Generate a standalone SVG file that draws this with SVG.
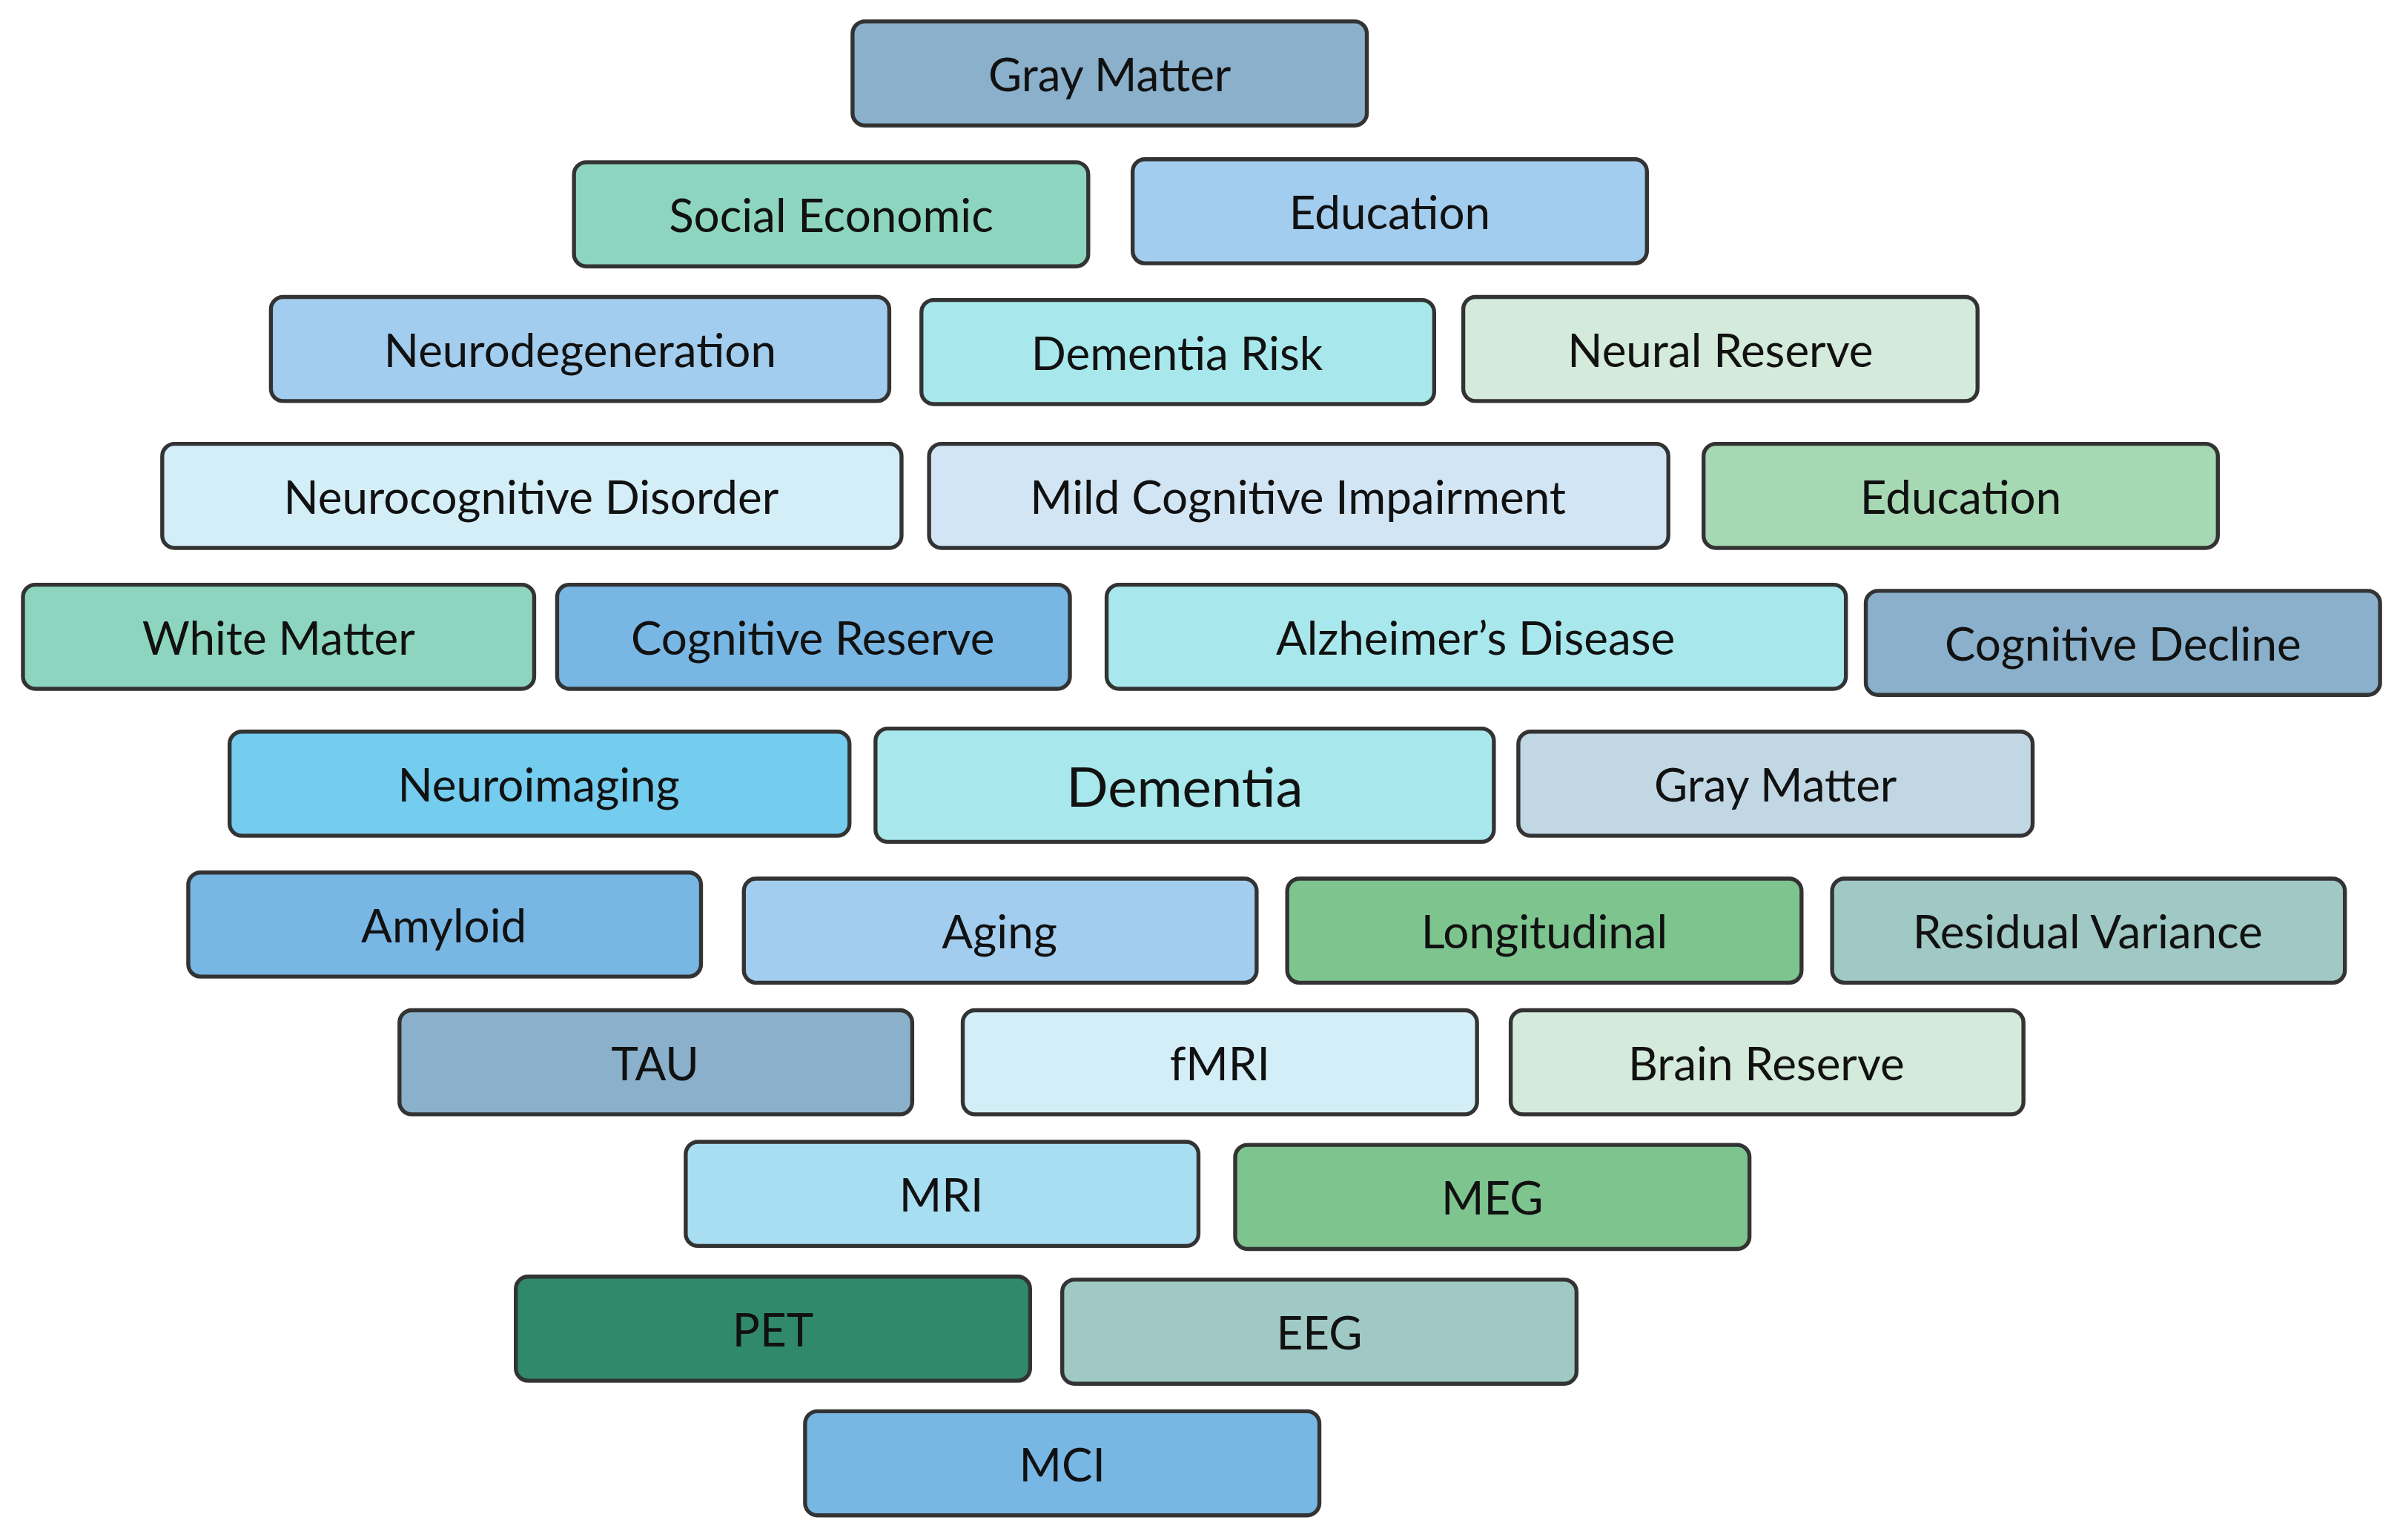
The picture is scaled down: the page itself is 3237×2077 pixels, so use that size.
<svg xmlns="http://www.w3.org/2000/svg" width="3237" height="2077" viewBox="0 0 3237 2077">
<style>
rect{stroke:#333;stroke-width:2.6;rx:8;ry:8}
text{font-family:Lato,"Noto Sans",sans-serif;font-size:30px;fill:#111;text-anchor:middle;dominant-baseline:central}
</style>
<rect width="3237" height="2077" fill="#fff" style="stroke:none"/>
<g transform="scale(2.0644)">
<g id="n1"><rect x="557" y="14" width="336" height="68" fill="#8AB0CB"/><text x="725" y="48">Gray Matter</text></g>
<g id="n2"><rect x="375" y="106" width="336" height="68" fill="#8DD5BF"/><text x="543" y="140">Social Economic</text></g>
<g id="n3"><rect x="740" y="104" width="336" height="68" fill="#A3CDEE"/><text x="908" y="138">Education</text></g>
<g id="n4"><rect x="177" y="194" width="404" height="68" fill="#A3CDEE"/><text x="379" y="228">Neurodegeneration</text></g>
<g id="n5"><rect x="602" y="196" width="335" height="68" fill="#A8E8EC"/><text x="769" y="230">Dementia Risk</text></g>
<g id="n6"><rect x="956" y="194" width="336" height="68" fill="#D4EADB"/><text x="1124" y="228">Neural Reserve</text></g>
<g id="n7"><rect x="106" y="290" width="483" height="68" fill="#D4EEF8"/><text x="347" y="324">Neurocognitive Disorder</text></g>
<g id="n8"><rect x="607" y="290" width="483" height="68" fill="#D2E5F4"/><text x="848" y="324">Mild Cognitive Impairment</text></g>
<g id="n9"><rect x="1113" y="290" width="336" height="68" fill="#A6D8B3"/><text x="1281" y="324">Education</text></g>
<g id="n10"><rect x="15" y="382" width="334" height="68" fill="#8DD5BF"/><text x="182" y="416">White Matter</text></g>
<g id="n11"><rect x="364" y="382" width="335" height="68" fill="#78B6E4"/><text x="531" y="416">Cognitive Reserve</text></g>
<g id="n12"><rect x="723" y="382" width="483" height="68" fill="#A8E8EC"/><text x="964" y="416">Alzheimer’s Disease</text></g>
<g id="n13"><rect x="1219" y="386" width="336" height="68" fill="#8AB0CB"/><text x="1387" y="420">Cognitive Decline</text></g>
<g id="n14"><rect x="150" y="478" width="405" height="68" fill="#74CCEE"/><text x="352" y="512">Neuroimaging</text></g>
<g id="n15"><rect x="572" y="476" width="404" height="74" fill="#A8E8EC"/><text x="774" y="513" style="font-size:36px">Dementia</text></g>
<g id="n16"><rect x="992" y="478" width="336" height="68" fill="#C2D7E4"/><text x="1160" y="512">Gray Matter</text></g>
<g id="n17"><rect x="123" y="570" width="335" height="68" fill="#78B6E4"/><text x="290" y="604">Amyloid</text></g>
<g id="n18"><rect x="486" y="574" width="335" height="68" fill="#A3CDEE"/><text x="653" y="608">Aging</text></g>
<g id="n19"><rect x="841" y="574" width="336" height="68" fill="#7DC48F"/><text x="1009" y="608">Longitudinal</text></g>
<g id="n20"><rect x="1197" y="574" width="335" height="68" fill="#A0C8C4"/><text x="1364" y="608">Residual Variance</text></g>
<g id="n21"><rect x="261" y="660" width="335" height="68" fill="#8AB0CB"/><text x="428" y="694">TAU</text></g>
<g id="n22"><rect x="629" y="660" width="336" height="68" fill="#D4EEF8"/><text x="797" y="694">fMRI</text></g>
<g id="n23"><rect x="987" y="660" width="335" height="68" fill="#D4EADB"/><text x="1154" y="694">Brain Reserve</text></g>
<g id="n24"><rect x="448" y="746" width="335" height="68" fill="#A8DEF2"/><text x="615" y="780">MRI</text></g>
<g id="n25"><rect x="807" y="748" width="336" height="68" fill="#7DC48F"/><text x="975" y="782">MEG</text></g>
<g id="n26"><rect x="337" y="834" width="336" height="68" fill="#31896C"/><text x="505" y="868">PET</text></g>
<g id="n27"><rect x="694" y="836" width="336" height="68" fill="#A0C8C4"/><text x="862" y="870">EEG</text></g>
<g id="n28"><rect x="526" y="922" width="336" height="68" fill="#78B6E4"/><text x="694" y="956">MCI</text></g>
<g id="connectors"></g>
</g>
</svg>
